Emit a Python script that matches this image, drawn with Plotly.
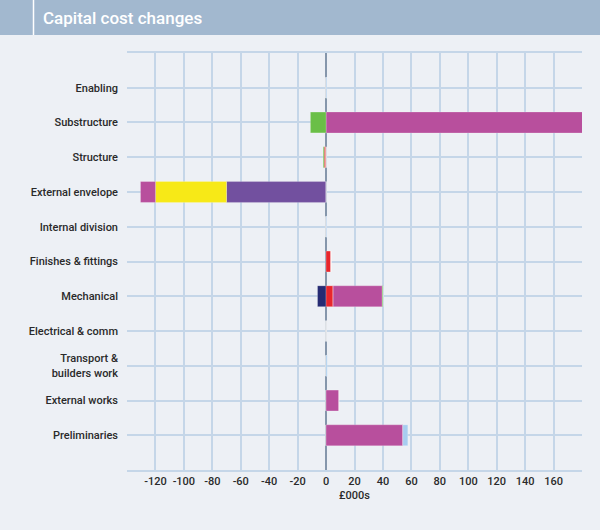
import plotly.graph_objects as go

categories = ["Enabling", "Substructure", "Structure", "External envelope",
              "Internal division", "Finishes & fittings", "Mechanical",
              "Electrical & comm", "Transport &<br>builders work",
              "External works", "Preliminaries"]

# series values (£000s), one list per colour band, in stacking order
navy      = [0, 0, 0, 0, 0, 0, -6, 0, 0, 0, 0]
red       = [0, 0, -1.3, 0, 0, 3.5, 5, 0, 0, 0, 0]
purple    = [0, 0, 0, -70, 0, 0, 0, 0, 0, 0, 0]
yellow    = [0, 0, 0, -50, 0, 0, 0, 0, 0, 0, 0]
magenta   = [0, 190, 0, -10.5, 0, 0, 34.5, 0, 0, 9, 54]
green     = [0, -11, -0.7, 0, 0, 0, 0.6, 0, 0, 0, 0]
lightblue = [0.5, 0, 0, 0, 0.4, 0, 0, 0, 0.8, 0, 3.5]

tick_vals = list(range(-120, 180, 20))
tick_text = [str(v) for v in tick_vals]

series = [
    ("Navy", navy, "#262b73"),
    ("Red", red, "#e8262c"),
    ("Purple", purple, "#72509f"),
    ("Yellow", yellow, "#f7e917"),
    ("Magenta", magenta, "#b84f9d"),
    ("Green", green, "#6abf47"),
    ("Light blue", lightblue, "#a8cdf0"),
]

fig = go.Figure()
for name, vals, col in series:
    fig.add_trace(go.Bar(
        y=categories, x=vals, orientation="h", name=name,
        marker=dict(color=col, line=dict(color="rgba(255,255,255,0.25)", width=0.8)),
        width=0.6,
    ))

W, H = 600, 530
L, R, T, B = 127, 18, 53, 60
pw, ph = W - L - R, H - T - B

def px(x):
    return (x - L) / pw

def py(y):
    return 1 - (y - T) / ph

FONT = "Roboto, Inter, sans-serif"
lab_font = dict(family=FONT, size=11, color="#2a2a2a", weight=500)

fig.update_layout(
    width=W, height=H,
    barmode="relative",
    showlegend=False,
    paper_bgcolor="#edf0f5",
    plot_bgcolor="#edf0f5",
    margin=dict(l=L, r=R, t=T, b=B),
    font=dict(family=FONT, size=11, color="#2a2a2a"),
    xaxis=dict(
        range=[-140, 180], tickvals=tick_vals, ticktext=tick_text,
        showgrid=True, gridcolor="#c5d6e8", gridwidth=1.5,
        zeroline=True, zerolinecolor="#8596ab", zerolinewidth=1.5,
        showline=True, linecolor="#c5d6e8", linewidth=1.5, mirror=True,
        ticks="", ticklen=0, tickfont=lab_font,
        title=dict(text="£000s", font=lab_font, standoff=4),
        fixedrange=True,
    ),
    yaxis=dict(
        categoryorder="array", categoryarray=categories,
        range=[10.999, -0.999], autorange=False,
        showgrid=True, gridcolor="#c5d6e8", gridwidth=1.5,
        ticks="", ticklabelstandoff=8, tickfont=lab_font,
        showline=False,
        fixedrange=True,
    ),
    shapes=[
        dict(type="rect", xref="paper", yref="paper",
             x0=px(0), x1=px(W), y0=py(0), y1=py(35),
             fillcolor="#a2b8cf", line=dict(width=0), layer="above"),
        dict(type="line", xref="paper", yref="paper",
             x0=px(33.5), x1=px(33.5), y0=py(0), y1=py(35),
             line=dict(color="#ffffff", width=1.5), layer="above"),
    ],
    annotations=[
        dict(text="Capital cost changes", xref="paper", yref="paper",
             x=px(41), y=py(17.5), xanchor="left", yanchor="middle",
             showarrow=False, font=dict(size=17, color="#ffffff",
                                        family=FONT, weight=500)),
    ],
)

fig.write_html(
    "out.html",
    config={"displayModeBar": False},
    post_script="document.body.style.margin='0';document.body.style.padding='0';"
                "document.body.style.background='#edf0f5';",
)
